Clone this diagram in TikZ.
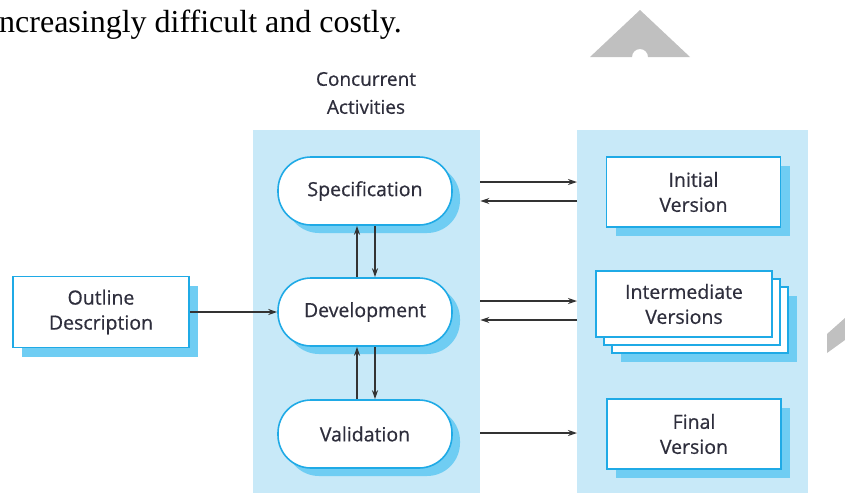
\documentclass[tikz,border=0pt]{standalone}
\usepackage{fontspec}
\setmainfont{Liberation Serif}
\newfontfamily\diagfont[FakeBold=0.6]{Open Sans}
\usetikzlibrary{arrows.meta,shadows,calc}
\definecolor{panelc}{HTML}{C8E9F8}
\definecolor{borderc}{HTML}{1FAAE6}
\definecolor{shadowc}{HTML}{6FCDF3}
\definecolor{txtc}{HTML}{2E2E3C}
\definecolor{arrc}{HTML}{333333}
\definecolor{wmark}{HTML}{C0C0C0}
\tikzset{
  panel/.style={fill=panelc, draw=none, inner sep=0pt, anchor=north west},
  stadium/.style={draw=borderc, line width=1.6pt, fill=white, rounded corners=33pt,
    minimum width=174pt, minimum height=68pt, inner sep=0pt,
    font=\diagfont\fontsize{19.5}{22}\selectfont, text=txtc,
    drop shadow={shadow xshift=8pt, shadow yshift=-8pt, fill=shadowc, opacity=1}},
  vbox/.style={draw=borderc, line width=1.6pt, fill=white,
    minimum width=174pt, minimum height=70pt, inner sep=0pt, align=center,
    font=\diagfont\fontsize{19.5}{25}\selectfont, text=txtc,
    drop shadow={shadow xshift=9pt, shadow yshift=-9pt, fill=shadowc, opacity=1}},
  stackbox/.style={draw=borderc, line width=1.6pt, fill=white,
    minimum width=176pt, minimum height=66pt, inner sep=0pt},
  arr/.style={draw=arrc, line width=1.4pt, -{Stealth[length=9pt,width=6pt]}},
}
\begin{document}
\begin{tikzpicture}[x=1pt,y=-1pt]
\useasboundingbox (0,0) rectangle (845,493);
% watermark fragments and cut text
\node[anchor=base west, inner sep=0pt, font=\fontsize{32}{36}\selectfont] (toptext) at (-1,32) {ncreasingly difficult and costly.};
\fill[wmark] (590,57) -- (640,10) -- (690,57) -- (648,57) arc[start angle=0, end angle=180, radius=8pt] -- cycle;
\fill[wmark] (827,334) -- (845,318) -- (845,340) -- (827,353) -- cycle;
% panels
\node[panel, minimum width=227pt, minimum height=363pt] (panelL) at (253,130) {};
\node[panel, minimum width=231pt, minimum height=363pt] (panelR) at (577,130) {};
% label
\node[font=\diagfont\fontsize{19}{28}\selectfont, text=txtc, align=center] (conc) at (366,93) {Concurrent\\Activities};
% activities
\node[stadium] (spec) at (365,191) {Specification};
\node[stadium] (dev) at (365,312) {Development};
\node[stadium] (val) at (365,434) {Validation};
% versions
\node[vbox] (init) at (693.5,192) {Initial\\Version};
\node[vbox] (final) at (694,434) {Final\\Version};
\node[stackbox, drop shadow={shadow xshift=9pt, shadow yshift=-9pt, fill=shadowc, opacity=1}] (inter3) at (700,320) {};
\node[stackbox] (inter2) at (692,312) {};
\node[stackbox, align=center, font=\diagfont\fontsize{19.5}{25}\selectfont, text=txtc] (inter) at (684,304) {Intermediate\\Versions};
% outline
\node[vbox, minimum width=176pt, minimum height=71pt] (outline) at (101,312) {Outline\\Description};
% connectors
\draw[arr] (outline.east) -- (dev.west);
\draw[arr] ([yshift=9pt]spec.east -| panelL.east) -- ([yshift=9pt]spec.east -| panelR.west);
\draw[arr] ([yshift=-10pt]spec.east -| panelR.west) -- ([yshift=-10pt]spec.east -| panelL.east);
\draw[arr] ([yshift=11pt]dev.east -| panelL.east) -- ([yshift=11pt]dev.east -| panelR.west);
\draw[arr] ([yshift=-8pt]dev.east -| panelR.west) -- ([yshift=-8pt]dev.east -| panelL.east);
\draw[arr] ([yshift=1pt]val.east -| panelL.east) -- ([yshift=1pt]val.east -| panelR.west);
\draw[arr] ([xshift=-8pt]dev.north) -- ([xshift=-8pt]spec.south);
\draw[arr] ([xshift=10pt]spec.south) -- ([xshift=10pt]dev.north);
\draw[arr] ([xshift=-8pt]val.north) -- ([xshift=-8pt]dev.south);
\draw[arr] ([xshift=10pt]dev.south) -- ([xshift=10pt]val.north);
\end{tikzpicture}
\end{document}
